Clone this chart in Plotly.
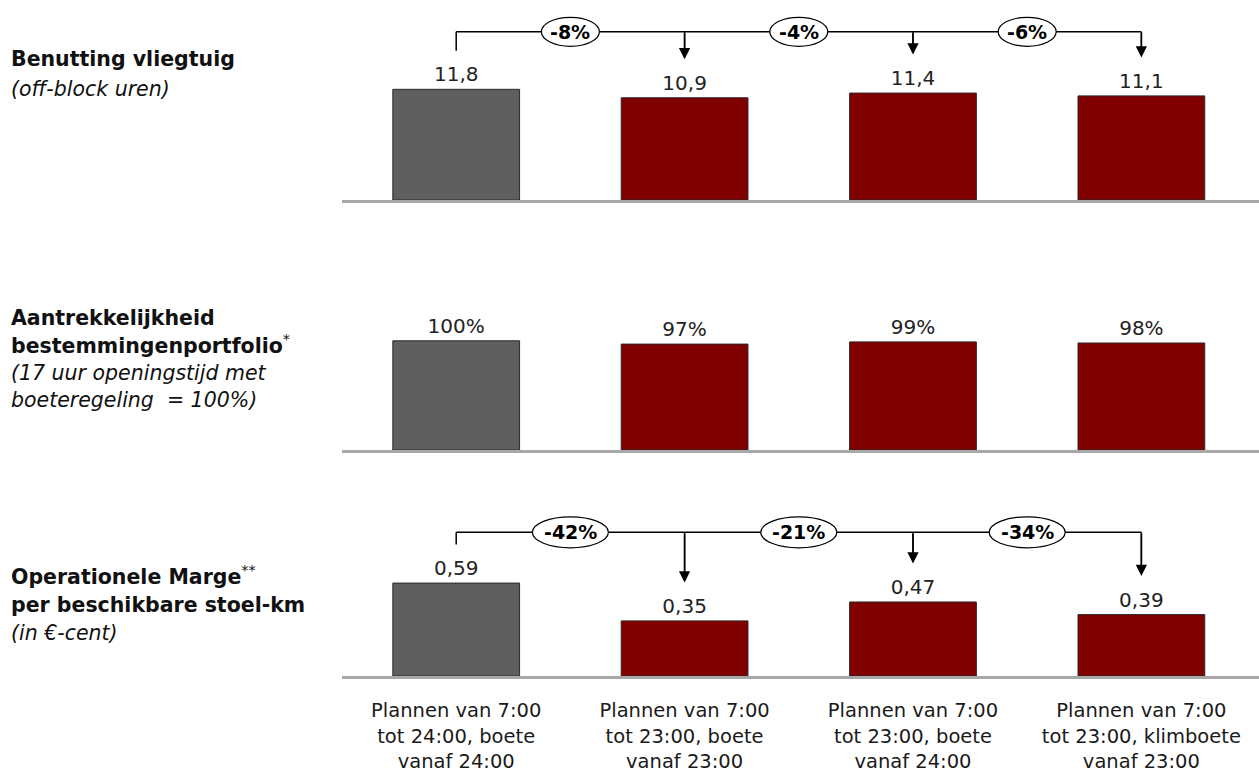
import plotly.graph_objects as go

# ---------------- data ----------------
categories = [
    "Plannen van 7:00<br>tot 24:00, boete<br>vanaf 24:00",
    "Plannen van 7:00<br>tot 23:00, boete<br>vanaf 23:00",
    "Plannen van 7:00<br>tot 23:00, boete<br>vanaf 24:00",
    "Plannen van 7:00<br>tot 23:00, klimboete<br>vanaf 23:00",
]
benutting = [11.8, 10.9, 11.4, 11.1]
aantrekkelijkheid = [100, 97, 99, 98]
marge = [0.59, 0.35, 0.47, 0.39]
benutting_changes = ["-8%", "-4%", "-6%"]
marge_changes = ["-42%", "-21%", "-34%"]

benutting_text = [f"{v:.1f}".replace(".", ",") for v in benutting]
aantrek_text = [f"{v:.0f}%" for v in aantrekkelijkheid]
marge_text = [f"{v:.2f}".replace(".", ",") for v in marge]

# ---------------- styling / layout constants ----------------
W, H = 1259, 772
FONT = "DejaVu Sans, Verdana, sans-serif"
GRAY = "#5f5f5f"
RED = "#800000"
bar_colors = [GRAY, RED, RED, RED]


def px_x(sx):
    return sx / W


def px_y(sy):
    return 1 - sy / H


XL = 342  # left edge of plotting area (px)
XRANGE = [-0.5, 3.515]
ppx = (W - XL) / (XRANGE[1] - XRANGE[0])  # px per category unit

# panels: baseline px, top px, px per unit
panels = [
    dict(base=200, top=0, ppu=9.38),
    dict(base=450, top=260, ppu=1.092),
    dict(base=676, top=480, ppu=157.5),
]

fig = go.Figure()
xs = list(range(len(categories)))
series = [(benutting, benutting_text), (aantrekkelijkheid, aantrek_text), (marge, marge_text)]
for k, (vals, txt) in enumerate(series):
    fig.add_trace(go.Bar(
        x=xs, y=vals, text=txt, textposition="outside", cliponaxis=False,
        width=0.555,
        marker=dict(color=bar_colors, line=dict(color="#2a2a2a", width=1)),
        textfont=dict(family=FONT, size=20, color="#222222"),
        xaxis="x" if k == 0 else f"x{k+1}",
        yaxis="y" if k == 0 else f"y{k+1}",
        hoverinfo="skip", showlegend=False,
    ))

layout = dict(
    width=W, height=H, margin=dict(l=0, r=0, t=0, b=0, autoexpand=False),
    paper_bgcolor="white", plot_bgcolor="white", showlegend=False,
)
for k, p in enumerate(panels):
    sx = "" if k == 0 else str(k + 1)
    y0 = px_y(p["base"])
    y1 = px_y(p["top"])
    ymax = (p["base"] - p["top"]) / p["ppu"]
    layout[f"yaxis{sx}"] = dict(domain=[y0, y1], range=[0, ymax], visible=False,
                               anchor=f"x{sx}", fixedrange=True, automargin=False)
    layout[f"xaxis{sx}"] = dict(
        domain=[px_x(XL), 1], range=XRANGE, anchor=f"y{sx}",
        showline=True, linecolor="#a8a8a8", linewidth=3,
        showgrid=False, zeroline=False, ticks="",
        tickvals=xs, ticktext=categories, showticklabels=(k == 2),
        tickfont=dict(family=FONT, size=19.5, color="#1a1a1a"),
        ticklabelstandoff=15, fixedrange=True, automargin=False)
fig.update_layout(**layout)

# ---------------- brackets with change labels ----------------
shapes = []
annotations = []
brackets = [
    (0, benutting, benutting_changes, 168.2, 29, 14.5, 19),
    (2, marge, marge_changes, 143.7, 38, 15.5, 19),
]
OFF_PX = 38.5
for k, vals, chg, by_px, ehw_px, ehh_px, fsize in brackets:
    sx = "" if k == 0 else str(k + 1)
    xr, yr = f"x{sx}", f"y{sx}"
    ppu = panels[k]["ppu"]
    by = by_px / ppu
    off = OFF_PX / ppu
    line = dict(color="black", width=1.5)
    n = len(vals)
    shapes.append(dict(type="line", xref=xr, yref=yr, x0=0, x1=n - 1, y0=by, y1=by, line=line))
    shapes.append(dict(type="line", xref=xr, yref=yr, x0=0, x1=0, y0=by, y1=vals[0] + off, line=line))
    for i in range(1, n):
        shapes.append(dict(type="line", xref=xr, yref=yr, x0=i, x1=i, y0=by,
                           y1=vals[i] + off + 8 / ppu, line=line))
        annotations.append(dict(x=i, y=vals[i] + off, ax=i, ay=by, xref=xr, yref=yr,
                                axref=xr, ayref=yr, text="", showarrow=True,
                                arrowhead=2, arrowsize=1.5, arrowwidth=1.5,
                                arrowcolor="black", standoff=0))
    for i, c in enumerate(chg):
        mid = i + 0.5
        hw = ehw_px / ppx
        hh = ehh_px / ppu
        shapes.append(dict(type="circle", xref=xr, yref=yr, x0=mid - hw, x1=mid + hw,
                           y0=by - hh, y1=by + hh, fillcolor="white",
                           line=dict(color="black", width=1.2)))
        annotations.append(dict(x=mid, y=by, xref=xr, yref=yr, text=f"<b>{c}</b>",
                                showarrow=False, xanchor="center", yanchor="middle",
                                font=dict(family=FONT, size=fsize, color="black")))

# ---------------- left row titles ----------------
left_lines = [
    ("<b>Benutting vliegtuig</b>", 59),
    ("<i>(off-block uren)</i>", 89),
    ("<b>Aantrekkelijkheid</b>", 318),
    ("<b>bestemmingenportfolio</b><sup>*</sup>", 344),
    ("<i>(17 uur openingstijd met</i>", 373),
    ("<i>boeteregeling  = 100%)</i>", 400),
    ("<b>Operationele Marge</b><sup>**</sup>", 575),
    ("<b>per beschikbare stoel-km</b>", 605),
    ("<i>(in €-cent)</i>", 633),
]
for txt, ypx in left_lines:
    annotations.append(dict(x=px_x(9), y=px_y(ypx), xref="paper", yref="paper",
                            text=txt, showarrow=False, xanchor="left", yanchor="middle",
                            font=dict(family=FONT, size=20.5, color="#111111")))

fig.update_layout(shapes=shapes, annotations=annotations)
fig.write_html(
    "out.html",
    config={"displayModeBar": False, "staticPlot": True},
    post_script="document.body.style.margin='0';document.body.style.overflow='hidden';",
)
